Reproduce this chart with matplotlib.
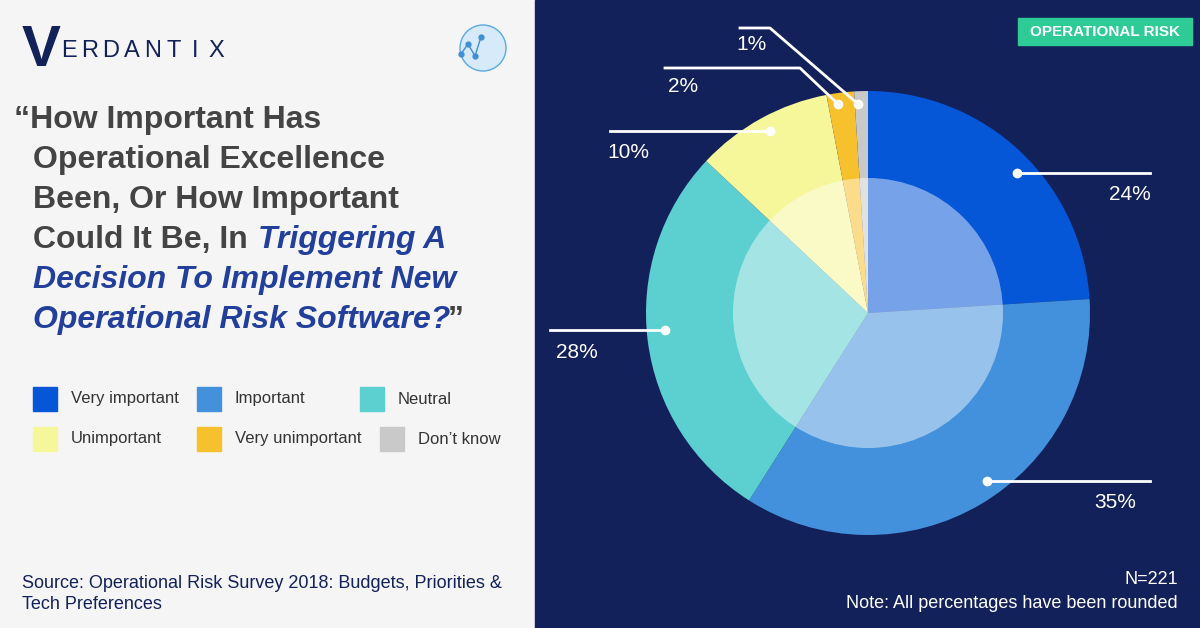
import matplotlib
matplotlib.use("Agg")
import matplotlib.pyplot as plt
from matplotlib.patches import Rectangle, Circle

plt.rcParams['font.family'] = ['Liberation Sans', 'DejaVu Sans']

categories = ["Very important", "Important", "Neutral", "Unimportant", "Very unimportant", "Don\u2019t know"]
values = [24, 35, 28, 10, 2, 1]
labels = ["24%", "35%", "28%", "10%", "2%", "1%"]
colors = ["#0656d8", "#4391dc", "#5ccfd0", "#f6f69a", "#f6c12c", "#c9c9c9"]

NAVY = "#13215a"
fig = plt.figure(figsize=(12, 6.28), dpi=100)
bg = fig.add_axes([0, 0, 1, 1])
bg.set_xlim(0, 1200); bg.set_ylim(628, 0); bg.axis('off')
bg.add_patch(Rectangle((0, 0), 535, 628, color="#f5f5f5"))
bg.add_patch(Rectangle((535, 0), 665, 628, color=NAVY))

# logo
bg.text(22, 66, "V", fontsize=42, fontweight='bold', color=NAVY, va='baseline')
for i, ch in enumerate("ERDANTIX"):
    bg.text(69 + i * 21, 57, ch, fontsize=17, color=NAVY, va='baseline', ha='center')
bg.add_patch(Circle((483, 48), 23, facecolor="#d6eafa", edgecolor="#5aa8e6", lw=1))
bg.plot([461, 468, 475, 481], [54, 44, 56, 37], color="#3f8fd6", lw=1, marker='o', ms=3.5)

# title
TS = 23
grey = "#444444"; blue = "#233f9c"
kw = dict(fontsize=TS, fontweight='bold', va='baseline')
bg.text(14, 128, "\u201cHow Important Has", color=grey, **kw)
bg.text(33, 168, "Operational Excellence", color=grey, **kw)
bg.text(33, 208, "Been, Or How Important", color=grey, **kw)
bg.text(33, 248, "Could It Be, In", color=grey, **kw)
bg.text(258, 248, "Triggering A", color=blue, style='italic', **kw)
bg.text(33, 288, "Decision To Implement New", color=blue, style='italic', **kw)
bg.text(33, 328, "Operational Risk Software?", color=blue, style='italic', **kw)
bg.text(448, 328, "\u201d", color=grey, **kw)

# legend
pos = [(33, 387), (197, 387), (360, 387), (33, 427), (197, 427), (380, 427)]
for (x, y), c, lab in zip(pos, colors, categories):
    bg.add_patch(Rectangle((x, y), 24, 24, color=c))
    bg.text(x + 38, y + 12, lab, fontsize=12, color="#333333", va='center')

bg.text(22, 594, "Source: Operational Risk Survey 2018: Budgets, Priorities &\nTech Preferences",
        fontsize=13, color=NAVY, va='center', linespacing=1.25)

# tag
bg.add_patch(Rectangle((1018, 18), 174, 27, color="#2fcb97"))
bg.text(1105, 32, "OPERATIONAL RISK", fontsize=11, color="white", ha='center', va='center', fontweight='bold')
bg.text(1178, 580, "N=221", fontsize=13, color="white", ha='right', va='center')
bg.text(1178, 603, "Note: All percentages have been rounded", fontsize=13, color="white", ha='right', va='center')

# pie
cx, cy, R = 868, 313, 222
ax = fig.add_axes([(cx-R)/1200, (628-cy-R)/628, 2*R/1200, 2*R/628])
ax.pie(values, colors=colors, startangle=90, counterclock=False, radius=1,
       wedgeprops=dict(linewidth=0))
ax.add_patch(Circle((0, 0), 135/222, facecolor="white", alpha=0.45, lw=0))
ax.set_xlim(-1, 1); ax.set_ylim(-1, 1); ax.set_aspect('auto'); ax.axis('off')

# overlay for callouts
ov = fig.add_axes([0, 0, 1, 1])
ov.set_xlim(0, 1200); ov.set_ylim(628, 0); ov.axis('off'); ov.patch.set_alpha(0)
call = [
    ([(1017, 173), (1150, 173)], (1130, 195)),
    ([(987, 481), (1150, 481)], (1115, 503)),
    ([(665, 330), (550, 330)], (577, 352)),
    ([(770, 131), (610, 131)], (628, 153)),
    ([(838, 104), (800, 68), (665, 68)], (683, 87)),
    ([(858, 104), (770, 28), (740, 28)], (752, 45)),
]
for (pts, lp), lab in zip(call, labels):
    ov.plot([p[0] for p in pts], [p[1] for p in pts], color="white", lw=2)
    ov.plot([pts[0][0]], [pts[0][1]], 'o', color="white", ms=6)
    ov.text(lp[0], lp[1], lab, fontsize=15, color="white", ha='center', va='center')

fig.savefig("out.png", dpi=100)
